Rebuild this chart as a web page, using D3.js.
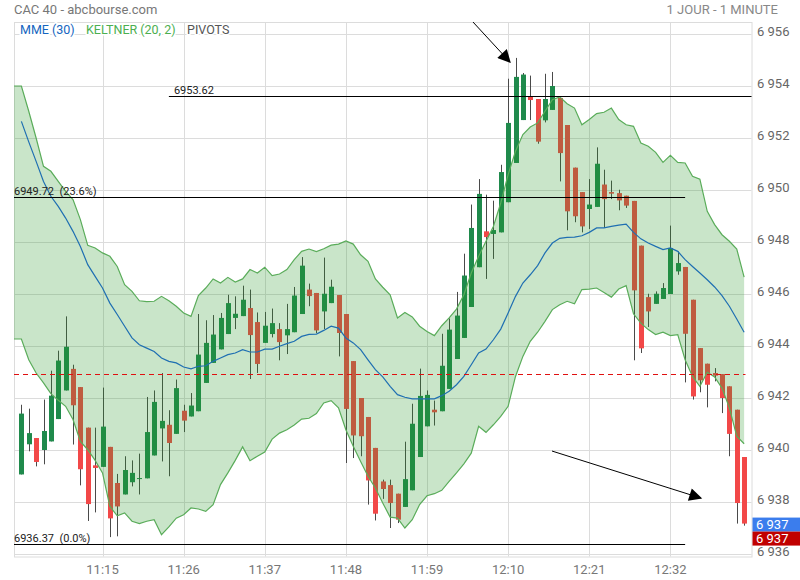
<!DOCTYPE html>
<html><head><meta charset="utf-8">
<script src="https://cdn.jsdelivr.net/npm/d3@7"></script>
<style>
body{margin:0;background:#fff;}
text{font-family:Roboto,"Noto Sans",sans-serif;}
</style></head><body>
<svg id="c" width="800" height="580"></svg>
<script>
// ---------- DATA ----------
const firstCandleTime = "11:04";
const firstBandTime = "11:03";
const candleOpen = [6939.06,6940.22,6940.46,6940.00,6940.33,6941.19,6942.29,6943.12,6942.42,6940.86,6939.41,6939.35,6940.12,6938.73,6938.29,6938.76,6938.92,6938.91,6939.79,6940.83,6940.97,6940.62,6941.51,6941.29,6941.49,
6942.58,6943.35,6943.87,6944.46,6945.08,6945.15,6945.46,6944.92,6944.12,6944.46,6944.65,6944.41,6944.53,6945.23,6946.17,6946.04,6945.33,6945.65,6945.96,6945.23,6943.42,6942.00,6941.27,6940.08,6938.79,
6938.65,6938.32,6937.81,6938.45,6939.73,6940.91,6941.55,6941.49,6942.35,6943.50,6944.31,6945.50,6947.03,6948.41,6948.31,6948.37,6949.53,6951.04,6952.69,6953.58,6953.50,6952.68,6953.08,6953.54,6952.50,
6950.86,6949.92,6949.27,6949.35,6950.21,6949.92,6949.88,6949.78,6949.58,6947.86,6945.88,6945.62,6945.81,6946.00,6946.87,6947.04,6945.78,6943.92,6943.32,6942.96,6942.92,6942.45,6941.55,6939.73];
const candleHigh = [6941.74,6941.59,6940.46,6941.94,6943.05,6943.82,6945.14,6943.28,6942.42,6940.86,6940.86,6942.40,6940.12,6939.08,6939.76,6939.60,6939.86,6942.04,6942.29,6942.96,6941.53,6942.71,6941.74,6942.19,6945.23,
6944.99,6945.19,6945.27,6945.97,6945.91,6946.32,6946.17,6945.29,6945.31,6945.44,6944.88,6945.62,6946.27,6947.42,6946.40,6946.04,6947.40,6946.55,6945.96,6945.23,6943.42,6942.00,6941.27,6940.08,6938.86,
6938.86,6938.32,6940.32,6941.78,6943.13,6942.29,6941.90,6944.47,6945.06,6946.08,6947.55,6949.44,6950.42,6949.82,6949.59,6950.97,6954.28,6955.08,6954.50,6954.40,6953.50,6954.47,6954.54,6953.54,6952.50,
6950.86,6949.92,6950.42,6951.64,6950.78,6950.36,6950.01,6949.78,6949.58,6947.86,6946.01,6946.10,6946.42,6948.63,6947.64,6947.04,6945.78,6943.92,6943.32,6943.15,6942.92,6942.45,6941.55,6939.73];
const candleLow = [6939.06,6939.95,6939.37,6939.45,6940.33,6941.19,6942.29,6940.21,6938.64,6937.27,6937.60,6939.35,6936.65,6936.68,6938.29,6938.60,6938.29,6938.91,6939.79,6939.56,6938.99,6940.62,6940.69,6941.29,6941.49,
6942.58,6943.35,6943.87,6944.46,6944.65,6945.15,6942.73,6942.96,6944.12,6944.33,6943.45,6943.69,6944.53,6945.23,6945.53,6944.50,6944.65,6945.65,6943.60,6939.50,6939.69,6939.76,6937.90,6937.29,6938.12,
6937.00,6937.19,6937.81,6938.45,6939.73,6940.91,6940.94,6941.49,6942.35,6943.50,6944.31,6945.50,6947.03,6946.58,6947.35,6948.37,6949.53,6951.04,6952.69,6952.69,6951.78,6952.60,6953.08,6950.33,6948.45,
6948.76,6948.37,6948.50,6949.35,6948.54,6949.65,6949.22,6949.31,6943.45,6943.73,6944.73,6945.62,6945.81,6946.00,6946.74,6942.60,6941.94,6942.22,6941.64,6942.64,6941.42,6939.76,6937.17,6937.09];
const candleClose = [6941.40,6940.65,6939.54,6940.73,6942.09,6943.44,6943.97,6941.72,6939.26,6937.92,6939.31,6940.90,6937.37,6937.83,6939.23,6939.12,6938.92,6940.69,6941.85,6941.12,6940.27,6942.38,6941.13,6941.71,6943.67,
6944.12,6944.44,6945.08,6945.65,6945.24,6945.78,6944.42,6943.31,6944.78,6944.88,6944.15,6944.65,6945.94,6947.09,6945.92,6944.60,6946.01,6946.28,6944.50,6941.58,6940.56,6940.53,6938.83,6937.55,6938.50,
6937.96,6937.32,6938.88,6941.01,6942.08,6942.12,6941.45,6943.24,6944.63,6945.17,6946.71,6948.54,6949.85,6948.19,6948.46,6950.69,6952.58,6954.35,6954.44,6953.46,6951.86,6953.50,6954.00,6951.42,6949.18,
6948.99,6948.60,6949.44,6951.01,6949.65,6949.86,6949.60,6949.40,6946.14,6943.91,6945.33,6946.01,6946.23,6947.77,6947.19,6944.47,6942.06,6942.68,6942.51,6942.86,6942.00,6940.62,6937.96,6937.17];
const mme30 = [6952.64,6951.85,6951.10,6950.33,6949.76,6949.37,6948.92,6948.41,6947.83,6947.13,6946.68,6946.23,6945.65,6945.21,6944.76,6944.31,6944.05,6943.92,6943.79,6943.54,6943.41,6943.35,6943.19,6943.12,6943.22,
6943.24,6943.41,6943.54,6943.67,6943.73,6943.86,6943.77,6943.77,6943.88,6943.88,6943.99,6944.09,6944.18,6944.37,6944.45,6944.46,6944.60,6944.76,6944.69,6944.31,6944.12,6943.86,6943.47,6943.09,6942.81,
6942.45,6942.13,6942.03,6941.97,6941.97,6941.97,6941.97,6942.09,6942.26,6942.51,6942.83,6943.28,6943.73,6943.88,6944.24,6944.65,6945.27,6945.91,6946.42,6946.74,6947.09,6947.58,6947.96,6948.14,6948.18,
6948.19,6948.24,6948.37,6948.54,6948.54,6948.60,6948.65,6948.69,6948.37,6948.12,6947.96,6947.83,6947.71,6947.77,6947.64,6947.32,6947.06,6946.81,6946.55,6946.27,6945.94,6945.53,6945.04,6944.53];
const keltnerUpper = [6954.00,6954.00,6953.03,6952.00,6950.91,6950.72,6950.33,6949.95,6949.63,6948.86,6947.87,6947.77,6947.58,6947.45,6947.06,6946.36,6946.10,6945.74,6945.71,6945.72,6945.91,6945.74,6945.53,6945.27,6945.14,6945.94,
6946.23,6946.58,6946.42,6946.64,6946.46,6946.58,6946.94,6946.81,6947.03,6946.71,6946.77,6946.94,6947.32,6947.64,6947.73,6947.63,6947.74,6947.88,6947.92,6948.04,6947.92,6947.51,6947.26,6946.58,6946.26,
6945.97,6945.08,6945.29,6945.12,6944.76,6944.56,6944.40,6944.78,6945.08,6945.42,6945.97,6946.81,6947.45,6948.03,6948.60,6949.50,6950.59,6951.49,6952.13,6952.42,6952.58,6953.03,6953.47,6953.58,6953.32,
6953.15,6952.51,6952.71,6952.94,6952.99,6953.15,6952.71,6952.51,6952.45,6951.81,6951.68,6951.45,6951.06,6951.33,6951.06,6951.04,6950.53,6950.42,6949.18,6948.67,6948.28,6948.03,6947.73,6946.65];
const keltnerLower = [6944.27,6944.27,6943.47,6942.96,6942.58,6942.17,6941.91,6941.68,6941.17,6940.33,6940.01,6939.60,6939.12,6937.83,6937.47,6937.58,6937.26,6937.17,6937.26,6937.32,6936.74,6937.04,6937.38,6937.51,6937.77,6937.73,
6937.64,6937.90,6938.67,6939.12,6939.60,6940.12,6939.59,6939.76,6939.92,6940.42,6940.65,6940.78,6940.96,6941.19,6941.22,6941.40,6941.81,6941.90,6941.62,6940.78,6940.14,6939.56,6938.99,6938.54,6937.96,
6937.42,6937.38,6937.00,6937.32,6937.90,6938.24,6938.32,6938.45,6938.79,6939.12,6939.47,6939.88,6940.91,6940.68,6940.97,6941.29,6941.68,6942.83,6943.60,6944.18,6944.53,6944.95,6945.40,6945.59,6945.72,
6945.62,6946.17,6946.19,6946.23,6946.06,6945.88,6946.19,6946.32,6945.24,6944.88,6944.63,6944.44,6944.53,6944.40,6944.44,6943.47,6942.83,6942.45,6942.99,6942.81,6942.38,6941.62,6940.53,6940.24];
const xTickLabels = ["11:15","11:26","11:37","11:48","11:59","12:10","12:21","12:32"];
const yTickValues = [6936,6938,6940,6942,6944,6946,6948,6950,6952,6954,6956];
const xDomain = ["11:03","12:43"];
const yDomain = [6936,6956];
const pivotLevels = [6953.62, 6949.72, 6936.37];
const pivotLabels = ["6953.62", "6949.72  (23.6%)", "6936.37  (0.0%)"];
const pivotFrom = ["11:24","11:03","11:03"];
const pivotTo = ["12:43","12:34","12:34"];
const refLevel = 6942.91;
const arrowFrom = [["12:05.24",6956.46],["12:15.95",6939.96]];
const arrowTo = [["12:10.25",6954.92],["12:36.15",6938.15]];
const titleText = "CAC 40 - abcbourse.com";
const periodText = "1 JOUR - 1 MINUTE";
const legendItems = ["MME (30)","KELTNER (20, 2)","PIVOTS"];

// ---------- HELPERS ----------
const toMin = s => { const [h,m] = s.split(":"); return +h*60 + parseFloat(m); };
const fmtTime = m => String(Math.floor(m/60)).padStart(2,"0")+":"+String(Math.round(m%60)).padStart(2,"0");
const fr = d3.formatLocale({decimal:",",thousands:" ",grouping:[3],currency:["",""]});
const fmtNum = fr.format(",.0f");

const candles = candleOpen.map((o,i)=>({t: toMin(firstCandleTime)+i, o, h:candleHigh[i], l:candleLow[i], c:candleClose[i]}));
const bands = keltnerUpper.map((u,i)=>({t: toMin(firstBandTime)+i, u, l:keltnerLower[i]}));
const mme = mme30.map((v,i)=>({t: toMin(firstCandleTime)+i, v}));

// ---------- LAYOUT ----------
const L=14, R=751.5, T=22, B=556.5;
const x = d3.scaleLinear().domain(xDomain.map(toMin)).range([L,R]);
const y = d3.scaleLinear().domain(yDomain).range([554,34]);
const svg = d3.select("#c");

svg.append("defs").append("clipPath").attr("id","clip")
  .append("rect").attr("x",L).attr("y",T).attr("width",R-L).attr("height",B-T);
const mk = svg.select("defs").append("marker").attr("id","arr")
  .attr("viewBox","0 0 10 10").attr("refX",9).attr("refY",5)
  .attr("markerWidth",15).attr("markerHeight",13).attr("markerUnits","userSpaceOnUse")
  .attr("orient","auto");
mk.append("path").attr("d","M0,0 L10,5 L0,10 z").attr("fill","#000");

// header
svg.append("text").attr("x",14).attr("y",13.5).attr("font-size",13).attr("fill","#777").text(titleText);
svg.append("text").attr("x",778).attr("y",13.5).attr("text-anchor","end").attr("font-size",13).attr("fill","#888").text(periodText);

// grid
const g = svg.append("g");
g.selectAll(".hg").data(yTickValues).join("line")
  .attr("x1",L).attr("x2",R).attr("y1",d=>Math.round(y(d))+0.5).attr("y2",d=>Math.round(y(d))+0.5)
  .attr("stroke","#dcdcdc");
g.selectAll(".vg").data(xTickLabels).join("line")
  .attr("x1",d=>Math.round(x(toMin(d)))+0.5).attr("x2",d=>Math.round(x(toMin(d)))+0.5)
  .attr("y1",T).attr("y2",B).attr("stroke","#dcdcdc");
g.append("rect").attr("x",L+0.5).attr("y",T+0.5).attr("width",R-L).attr("height",B-T)
  .attr("fill","none").attr("stroke","#dcdcdc");

// axis labels
svg.selectAll(".yl").data(yTickValues).join("text")
  .attr("x",757).attr("y",d=>y(d)+1.5).attr("font-size",13).attr("fill","#666").text(d=>fmtNum(d));
svg.selectAll(".xl").data(xTickLabels).join("text")
  .attr("x",d=>x(toMin(d))).attr("y",574).attr("text-anchor","middle").attr("font-size",13).attr("fill","#777").text(d=>d);

// candles
const cg = svg.append("g").attr("clip-path","url(#clip)");
const cx = d => Math.round(x(d.t));
cg.selectAll(".wick").data(candles).join("line")
  .attr("x1",d=>cx(d)+0.5).attr("x2",d=>cx(d)+0.5)
  .attr("y1",d=>y(d.h)).attr("y2",d=>y(d.l)).attr("stroke","#4a4a4a").attr("stroke-width",1);
cg.selectAll(".body").data(candles).join("rect")
  .attr("x",d=>cx(d)-2).attr("width",5)
  .attr("y",d=>y(Math.max(d.o,d.c)))
  .attr("height",d=>Math.max(1,Math.abs(y(d.o)-y(d.c))))
  .attr("fill",d=>d.c>=d.o?"#1f8a4c":"#f24848");

// keltner band
const bg = svg.append("g").attr("clip-path","url(#clip)");
bg.append("path").datum(bands)
  .attr("d",d3.area().x(d=>x(d.t)).y0(d=>y(d.l)).y1(d=>y(d.u)))
  .attr("fill","rgb(40,150,40)").attr("fill-opacity",0.25);
bg.append("path").datum(bands).attr("d",d3.line().x(d=>x(d.t)).y(d=>y(d.u)))
  .attr("fill","none").attr("stroke","#5aac5a").attr("stroke-width",1.2);
bg.append("path").datum(bands).attr("d",d3.line().x(d=>x(d.t)).y(d=>y(d.l)))
  .attr("fill","none").attr("stroke","#5aac5a").attr("stroke-width",1.2);
bg.append("path").datum(mme).attr("d",d3.line().x(d=>x(d.t)).y(d=>y(d.v)))
  .attr("fill","none").attr("stroke","#1f6fb2").attr("stroke-width",1.2);

// reference dashed
svg.append("line").attr("x1",L).attr("x2",R-6)
  .attr("y1",Math.round(y(refLevel))+0.5).attr("y2",Math.round(y(refLevel))+0.5)
  .attr("stroke","#e01010").attr("stroke-dasharray","5,4").attr("stroke-width",1);

// pivots
pivotLevels.forEach((v,i)=>{
  const x1 = x(toMin(pivotFrom[i])), x2 = x(toMin(pivotTo[i]));
  const yy = Math.round(y(v))+0.5;
  svg.append("line").attr("x1",x1).attr("x2",x2).attr("y1",yy).attr("y2",yy).attr("stroke","#000").attr("stroke-width",1);
  svg.append("text").attr("x",x1 + (x1>L+2?5:0)).attr("y",yy-2.5).attr("font-size",11).attr("fill","#222")
    .style("white-space","pre").attr("xml:space","preserve").text(pivotLabels[i]);
});

// arrows
arrowFrom.forEach((a,i)=>{
  const b = arrowTo[i];
  svg.append("line").attr("x1",x(toMin(a[0]))).attr("y1",y(a[1]))
    .attr("x2",x(toMin(b[0]))).attr("y2",y(b[1]))
    .attr("stroke","#000").attr("stroke-width",1).attr("marker-end","url(#arr)");
});

// legend
const lx = [20, 86, 187], lc = ["#1565c0","#4caf50","#555"];
legendItems.forEach((t,i)=>{
  svg.append("text").attr("x",lx[i]).attr("y",33.5).attr("font-size",12.5).attr("fill",lc[i])
    .attr("stroke","#fff").attr("stroke-width",3).attr("paint-order","stroke").text(t);
});

// last price boxes
const last = candles[candles.length-1];
const ly = y(last.c);
svg.append("rect").attr("x",752.5).attr("y",ly-6).attr("width",48).attr("height",14).attr("fill","#3b7ded");
svg.append("text").attr("x",756).attr("y",ly+5.5).attr("font-size",13).attr("fill","#fff").text(fmtNum(last.c));
svg.append("rect").attr("x",752.5).attr("y",ly+8).attr("width",48).attr("height",14).attr("fill","#c00000");
svg.append("text").attr("x",756).attr("y",ly+19.5).attr("font-size",13).attr("fill","#fff").text(fmtNum(last.c));
</script>
</body></html>
